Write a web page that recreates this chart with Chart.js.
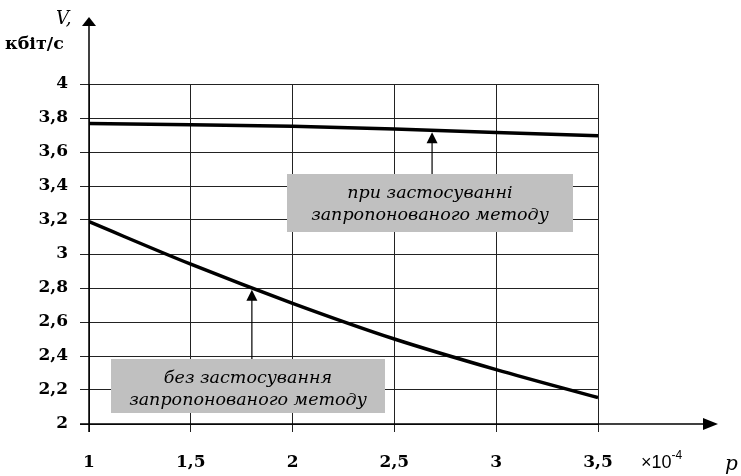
<!DOCTYPE html>
<html>
<head>
<meta charset="utf-8">
<script src="https://cdn.jsdelivr.net/npm/chart.js@4"></script>
<style>
  html, body { margin: 0; padding: 0; background: #fff; }
  #wrap { width: 741px; height: 476px; }
</style>
</head>
<body>
<div id="wrap"><canvas id="chart" width="741" height="476"></canvas></div>
<script>
// data
const pValues = [1, 1.5, 2, 2.5, 3, 3.5];
const withMethod = [3.767, 3.76, 3.752, 3.735, 3.715, 3.695];
const withoutMethod = [3.19, 2.94, 2.71, 2.5, 2.32, 2.155];
const noteWith = ["при застосуванні", "запропонованого методу"];
const noteWithout = ["без застосування", "запропонованого методу"];
const arrowAt = [2.685, 1.8];
const yTitle = ["V,", "кбіт/с"];
const xTitle = "p";
const xFactor = ["×10", "-4"];

const SERIF = '"DejaVu Serif", serif';
const fmt = v => String(Math.round(v * 10) / 10).replace(".", ",");

function valueAt(xs, ys, x) {
  for (let i = 0; i < xs.length - 1; i++) {
    if (x >= xs[i] && x <= xs[i + 1]) {
      const t = (x - xs[i]) / (xs[i + 1] - xs[i]);
      return ys[i] + t * (ys[i + 1] - ys[i]);
    }
  }
  return ys[ys.length - 1];
}

function upTriangle(ctx, x, tipY, w, h) {
  ctx.beginPath();
  ctx.moveTo(x, tipY);
  ctx.lineTo(x - w / 2, tipY + h);
  ctx.lineTo(x + w / 2, tipY + h);
  ctx.closePath();
  ctx.fill();
}

function note(ctx, box, lines, arrowX, tipY) {
  ctx.fillStyle = "#c0c0c0";
  ctx.fillRect(box[0], box[1], box[2], box[3]);
  ctx.fillStyle = "#000";
  ctx.strokeStyle = "#000";
  ctx.lineWidth = 1.2;
  ctx.beginPath();
  ctx.moveTo(arrowX, box[1]);
  ctx.lineTo(arrowX, tipY + 10);
  ctx.stroke();
  upTriangle(ctx, arrowX, tipY, 11, 11);
  ctx.font = "italic 17.5px " + SERIF;
  ctx.textAlign = "center";
  ctx.textBaseline = "middle";
  const cx = box[0] + box[2] / 2;
  ctx.fillText(lines[0], cx, box[1] + 19);
  ctx.fillText(lines[1], cx, box[1] + 41);
}

const decorations = {
  id: "decorations",
  afterDraw(chart) {
    const ctx = chart.ctx;
    const xs = chart.scales.x, ys = chart.scales.y;
    const left = xs.getPixelForValue(pValues[0]);
    const bottom = ys.getPixelForValue(2);
    ctx.save();
    ctx.strokeStyle = "#000";
    ctx.fillStyle = "#000";
    ctx.lineWidth = 1.5;
    // axes with arrows
    ctx.beginPath();
    ctx.moveTo(left, bottom + 8);
    ctx.lineTo(left, 24);
    ctx.stroke();
    upTriangle(ctx, left, 17, 14, 9);
    ctx.beginPath();
    ctx.moveTo(left - 9, bottom);
    ctx.lineTo(705, bottom);
    ctx.stroke();
    ctx.beginPath();
    ctx.moveTo(718, bottom);
    ctx.lineTo(703, bottom - 6);
    ctx.lineTo(703, bottom + 6);
    ctx.closePath();
    ctx.fill();

    // axis titles
    ctx.textBaseline = "middle";
    ctx.textAlign = "left";
    ctx.font = "italic 18px " + SERIF;
    ctx.fillText(yTitle[0], 56, 19);
    ctx.font = "bold 17.5px " + SERIF;
    ctx.fillText(yTitle[1], 5, 44);
    ctx.font = "18px 'Liberation Sans', Arial, sans-serif";
    ctx.fillText(xFactor[0], 641, 463);
    const w = ctx.measureText(xFactor[0]).width;
    ctx.font = "12px 'Liberation Sans', Arial, sans-serif";
    ctx.fillText(xFactor[1], 641 + w, 456);
    ctx.font = "italic 20px " + SERIF;
    ctx.fillText(xTitle, 725, 465);

    // notes with arrows
    const a1 = xs.getPixelForValue(arrowAt[0]);
    const t1 = ys.getPixelForValue(valueAt(pValues, withMethod, arrowAt[0])) + 2;
    note(ctx, [287, 174, 286, 58], noteWith, a1, t1);
    const a2 = xs.getPixelForValue(arrowAt[1]);
    const t2 = ys.getPixelForValue(valueAt(pValues, withoutMethod, arrowAt[1])) + 2;
    note(ctx, [111, 359, 274, 54], noteWithout, a2, t2);
    ctx.restore();
  }
};

new Chart(document.getElementById("chart"), {
  type: "line",
  data: {
    datasets: [
      {
        label: "при застосуванні запропонованого методу",
        data: pValues.map((p, i) => ({ x: p, y: withMethod[i] })),
        borderColor: "#000",
        borderWidth: 3.5,
        pointRadius: 0,
      },
      {
        label: "без застосування запропонованого методу",
        data: pValues.map((p, i) => ({ x: p, y: withoutMethod[i] })),
        borderColor: "#000",
        borderWidth: 3.5,
        pointRadius: 0,
        cubicInterpolationMode: "monotone",
      },
    ],
  },
  options: {
    responsive: false,
    animation: false,
    layout: { padding: { left: 0, top: 84, right: 143, bottom: 0 } },
    plugins: {
      legend: { display: false },
      tooltip: { enabled: false },
    },
    scales: {
      x: {
        type: "linear",
        min: 1,
        max: 3.5,
        afterFit: (s) => { s.height = 52; },
        grid: { color: "#222", lineWidth: 1, tickLength: 8 },
        border: { display: false },
        ticks: {
          stepSize: 0.5,
          padding: 20,
          color: "#000",
          font: { family: SERIF, size: 17, weight: "bold" },
          callback: (v) => fmt(v),
        },
      },
      y: {
        min: 2,
        max: 4,
        afterFit: (s) => { s.width = 89; },
        grid: { color: "#222", lineWidth: 1, tickLength: 9 },
        border: { display: false },
        ticks: {
          stepSize: 0.2,
          padding: 12,
          color: "#000",
          font: { family: SERIF, size: 17, weight: "bold" },
          callback: (v) => fmt(v),
        },
      },
    },
  },
  plugins: [decorations],
});
</script>
</body>
</html>
